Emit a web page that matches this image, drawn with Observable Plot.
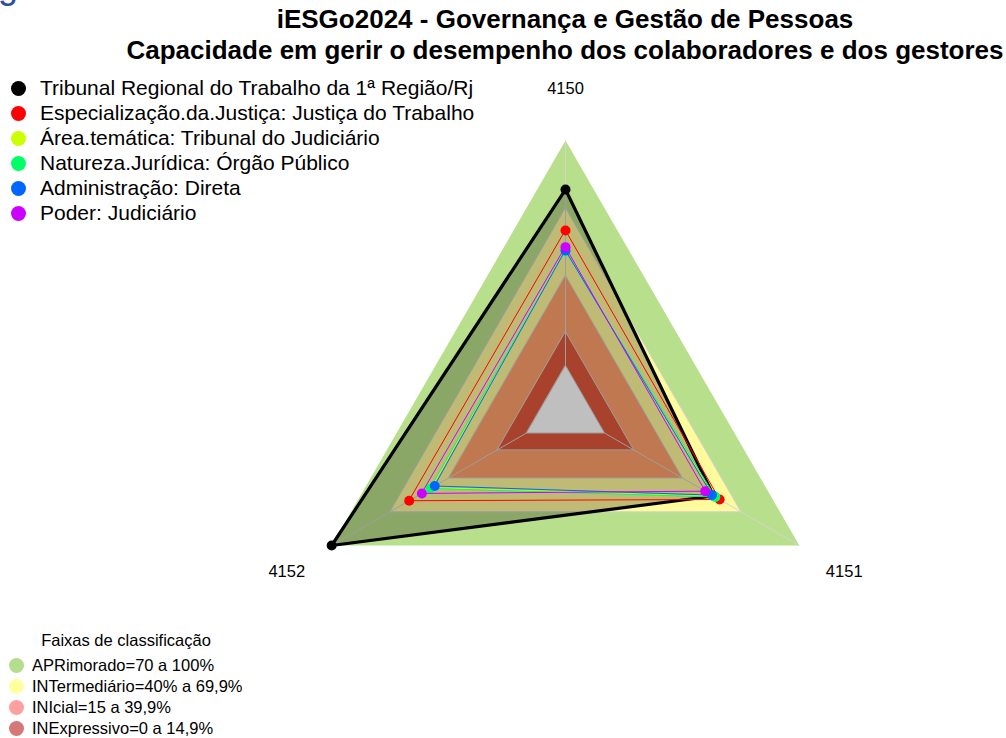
<!DOCTYPE html>
<html>
<head>
<meta charset="utf-8">
<script src="https://cdn.jsdelivr.net/npm/d3@7"></script>
<script src="https://cdn.jsdelivr.net/npm/@observablehq/plot@0.6"></script>
<style>
  html, body { margin: 0; padding: 0; background: #fff; }
  #wrap { position: relative; width: 1006px; height: 738px; overflow: hidden; font-family: "Liberation Sans", Arial, sans-serif; }
  #wrap svg { position: absolute; left: 0; top: 0; }
  .abs { position: absolute; white-space: nowrap; line-height: 1; }
  .title { font-weight: bold; font-size: 26px; color: #000; transform: translateX(-50%); }
  .leg1 { font-size: 21px; color: #000; }
  .leg1 .dot { position: absolute; width: 15px; height: 15px; border-radius: 50%; left: -29.5px; top: 3.5px; }
  .leg2 { font-size: 16.5px; color: #000; }
  .leg2 .dot { position: absolute; width: 15px; height: 15px; border-radius: 50%; left: -23.5px; top: 1px; }
</style>
</head>
<body>
<div id="wrap"></div>
<script>
// ---- data ----
const axisLabels = ["4150", "4151", "4152"];

const bandLevels = [100, 70, 40, 15, 0];
const bandColors = ["#b8df8b", "#fffa9c", "#ffa06b", "#e0593b", "#ffffff"];

const legendBands = ["APRimorado=70 a 100%", "INTermediário=40% a 69,9%", "INIcial=15 a 39,9%", "INExpressivo=0 a 14,9%"];
const legendBandColors = ["#b4de8c", "#ffffa0", "#ffa0a0", "#d47878"];

const seriesNames = [
  "Tribunal Regional do Trabalho da 1ª Região/Rj",
  "Especialização.da.Justiça: Justiça do Trabalho",
  "Área.temática: Tribunal do Judiciário",
  "Natureza.Jurídica: Órgão Público",
  "Administração: Direta",
  "Poder: Judiciário"
];
const seriesColors = ["#000000", "#FF0000", "#CCFF00", "#00FF66", "#0066FF", "#CC00FF"];
const v4150 = [78.2, 60.0, 51.0, 50.8, 51.1, 52.6];
const v4151 = [56.0, 59.1, 56.2, 56.9, 55.2, 51.7];
const v4152 = [100.0, 60.2, 48.6, 49.3, 47.1, 53.7];

const titleLines = ["iESGo2024 - Governança e Gestão de Pessoas", "Capacidade em gerir o desempenho dos colaboradores e dos gestores"];
const bandLegendTitle = "Faixas de classificação";

// ---- geometry helpers (radar with inner offset like fmsb) ----
const W = 1006, H = 738, CX = 565, CY = 410, R = 270;
const nAx = axisLabels.length;
const rad = v => 1 / 6 + (5 / 6) * (v / 100);
const ang = k => Math.PI / 2 - k * 2 * Math.PI / nAx;
const pt = (v, k) => ({x: rad(v) * Math.cos(ang(k)), y: rad(v) * Math.sin(ang(k))});

const bandPolys = bandLevels.map((lv, i) => axisLabels.map((a, k) => ({...pt(lv, k), color: bandColors[i]})));
const gridPolys = [0, 15, 40, 70].map(lv => axisLabels.map((a, k) => pt(lv, k)));
const spokes = axisLabels.map((a, k) => {
  const p0 = pt(0, k), p1 = pt(100, k);
  return {x1: p0.x, y1: p0.y, x2: p1.x, y2: p1.y};
});
const labelPts = axisLabels.map((a, k) => ({label: a, x: 1.192 * Math.cos(ang(k)), y: 1.192 * Math.sin(ang(k))}));
const seriesPolys = seriesNames.map((s, i) => [v4150[i], v4151[i], v4152[i]].map((v, k) => ({...pt(v, k), s})));

const marks = [];
bandPolys.forEach((poly, i) => marks.push(Plot.line(poly, {x: "x", y: "y", curve: "linear-closed", fill: bandColors[i], stroke: "none"})));
gridPolys.forEach(poly => marks.push(Plot.line(poly, {x: "x", y: "y", curve: "linear-closed", stroke: "#d3d3d3", strokeWidth: 1})));
marks.push(Plot.link(spokes, {x1: "x1", y1: "y1", x2: "x2", y2: "y2", stroke: "#d3d3d3", strokeWidth: 1}));
// black series area fill (semi-transparent)
marks.push(Plot.line(seriesPolys[0], {x: "x", y: "y", curve: "linear-closed", fill: "#000", fillOpacity: 0.25, stroke: "none"}));
seriesPolys.forEach((poly, i) => {
  marks.push(Plot.line(poly, {x: "x", y: "y", curve: "linear-closed", stroke: seriesColors[i], strokeWidth: i === 0 ? 3.2 : 1, strokeLinejoin: "miter"}));
  marks.push(Plot.dot(poly, {x: "x", y: "y", r: 5, fill: seriesColors[i], stroke: "none"}));
});
marks.push(Plot.text(labelPts, {x: "x", y: "y", text: "label", fontSize: 16.5, fill: "#000", fontFamily: "Liberation Sans, Arial, sans-serif"}));

const chart = Plot.plot({
  width: W, height: H, margin: 0,
  x: {domain: [-CX / R, (W - CX) / R], axis: null},
  y: {domain: [-(H - CY) / R, CY / R], axis: null},
  style: {background: "transparent"},
  marks
});
const wrap = document.getElementById("wrap");
wrap.appendChild(chart);

function addDiv(cls, text, left, top, extra) {
  const d = document.createElement("div");
  d.className = "abs " + cls;
  d.style.left = left + "px";
  d.style.top = top + "px";
  d.textContent = text;
  if (extra) Object.assign(d.style, extra);
  wrap.appendChild(d);
  return d;
}
// clipped glyph in top-left corner (as in the reference)
addDiv("", "g", -2, -32, {fontSize: "36px", color: "#2f4e9a"});

addDiv("title", titleLines[0], CX, 6);
addDiv("title", titleLines[1], CX, 37);

seriesNames.forEach((s, i) => {
  const d = addDiv("leg1", s, 40, 77 + i * 25);
  const dot = document.createElement("span");
  dot.className = "dot"; dot.style.background = seriesColors[i];
  d.appendChild(dot);
});

addDiv("leg2", bandLegendTitle, 126, 631.5, {transform: "translateX(-50%)"});
legendBands.forEach((s, i) => {
  const d = addDiv("leg2", s, 32, 656.5 + i * 21.3);
  const dot = document.createElement("span");
  dot.className = "dot"; dot.style.background = legendBandColors[i];
  d.appendChild(dot);
});
</script>
</body>
</html>
